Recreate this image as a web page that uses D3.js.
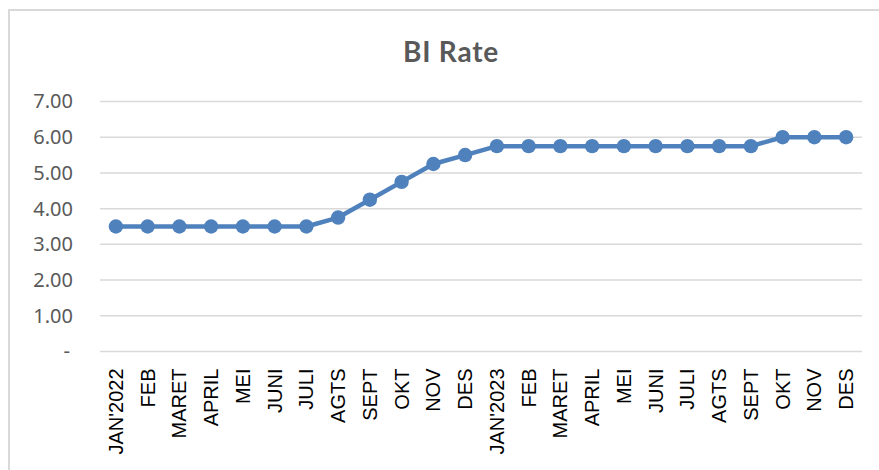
<!DOCTYPE html>
<html>
<head>
<meta charset="utf-8">
<script src="https://cdn.jsdelivr.net/npm/d3@7"></script>
<style>
  html, body { margin: 0; padding: 0; background: #fff; }
  svg { display: block; }
</style>
</head>
<body>
<svg id="chart" width="879" height="470"></svg>
<script>
// BI Rate, monthly, Jan 2022 - Dec 2023
const months = ["JAN'2022","FEB","MARET","APRIL","MEI","JUNI","JULI","AGTS","SEPT","OKT","NOV","DES",
                "JAN'2023","FEB","MARET","APRIL","MEI","JUNI","JULI","AGTS","SEPT","OKT","NOV","DES"];
const rates = [3.50,3.50,3.50,3.50,3.50,3.50,3.50,3.75,4.25,4.75,5.25,5.50,
               5.75,5.75,5.75,5.75,5.75,5.75,5.75,5.75,5.75,6.00,6.00,6.00];
const yTicks = [0,1,2,3,4,5,6,7];
const title = "BI Rate";

const svg = d3.select("#chart");
const W = 879, H = 470;
const plot = { left: 100, right: 862, top: 101.5, bottom: 351.5 };

// chart frame (extends past the right and bottom edges)
svg.append("rect")
  .attr("x", 9).attr("y", 10)
  .attr("width", W + 20).attr("height", H + 20)
  .attr("fill", "#fff").attr("stroke", "#d9d9d9").attr("stroke-width", 2);

const x = d3.scaleBand()
  .domain(d3.range(months.length))
  .range([plot.left, plot.right]);

const y = d3.scaleLinear()
  .domain([0, 7])
  .range([plot.bottom, plot.top]);

// title
svg.append("text")
  .attr("x", 451).attr("y", 62)
  .attr("text-anchor", "middle")
  .attr("font-family", "Lato, sans-serif")
  .attr("font-weight", "bold")
  .attr("font-size", 28)
  .attr("letter-spacing", 0.8)
  .attr("fill", "#595959")
  .text(title);

// horizontal gridlines
svg.append("g")
  .selectAll("line")
  .data(yTicks)
  .join("line")
  .attr("x1", plot.left).attr("x2", plot.right)
  .attr("y1", d => y(d)).attr("y2", d => y(d))
  .attr("stroke", "#d9d9d9").attr("stroke-width", 1.5);

// y axis labels
const yAxis = d3.axisLeft(y)
  .tickValues(yTicks)
  .tickSize(0)
  .tickPadding(0)
  .tickFormat(d => d === 0 ? "-" : d3.format(".2f")(d));

const gy = svg.append("g")
  .attr("transform", `translate(${plot.left - 27},0)`)
  .call(yAxis);
gy.select(".domain").remove();
gy.selectAll("text")
  .attr("font-family", "'Noto Sans', sans-serif")
  .attr("font-size", 20)
  .attr("fill", "#595959");
gy.selectAll(".tick")
  .filter(d => d === 0)
  .select("text")
  .attr("dx", -3);

// x axis labels (rotated)
const xAxis = d3.axisBottom(x)
  .tickSize(0)
  .tickPadding(0)
  .tickFormat(i => months[i]);

const gx = svg.append("g")
  .attr("transform", `translate(0,${plot.bottom})`)
  .call(xAxis);
gx.select(".domain").remove();
gx.selectAll("text")
  .attr("font-family", "'Liberation Sans', Arial, sans-serif")
  .attr("font-size", 20)
  .attr("fill", "#000")
  .attr("text-anchor", "end")
  .attr("dy", "0.35em")
  .attr("transform", "translate(0,17) rotate(-90)")
  .attr("y", 0).attr("x", 0);

// series line
const cx = i => x(i) + x.bandwidth() / 2;
const line = d3.line()
  .x((d, i) => cx(i))
  .y(d => y(d));

svg.append("path")
  .datum(rates)
  .attr("d", line)
  .attr("fill", "none")
  .attr("stroke", "#4f81bd")
  .attr("stroke-width", 4.5)
  .attr("stroke-linejoin", "round");

svg.append("g")
  .selectAll("circle")
  .data(rates)
  .join("circle")
  .attr("cx", (d, i) => cx(i))
  .attr("cy", d => y(d))
  .attr("r", 7.2)
  .attr("fill", "#4f81bd");
</script>
</body>
</html>
